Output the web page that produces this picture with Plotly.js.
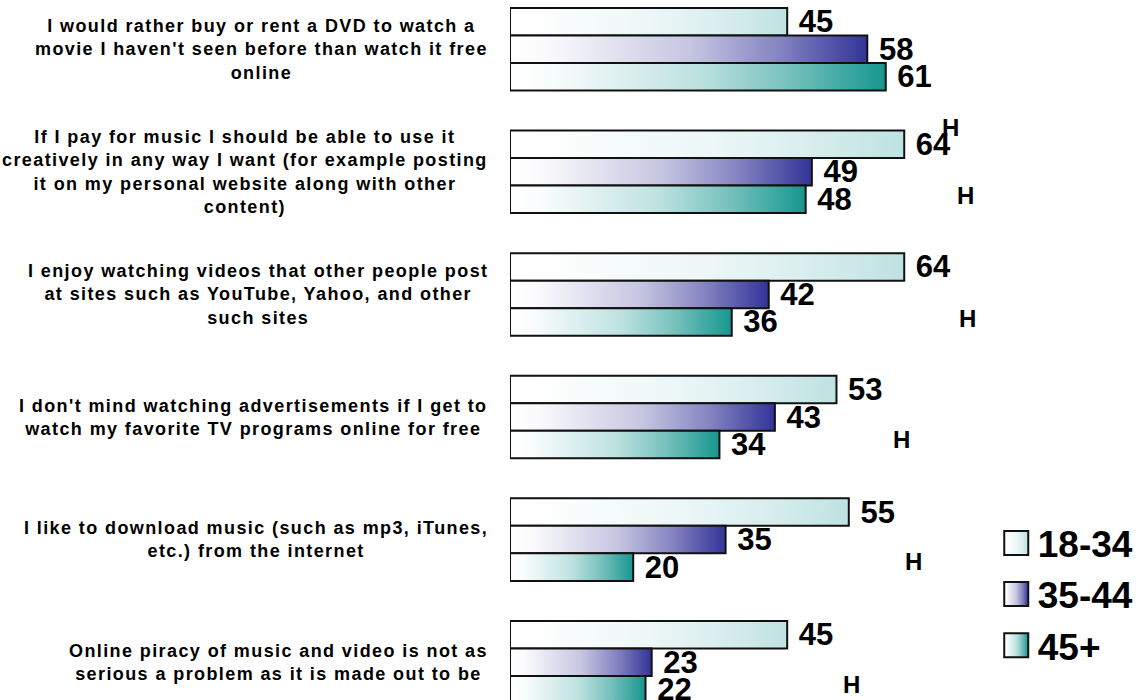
<!DOCTYPE html>
<html>
<head>
<meta charset="utf-8">
<script src="https://cdn.plot.ly/plotly-3.0.1.min.js"></script>
<style>
html, body { margin: 0; padding: 0; background: #ffffff; }
#chart { width: 1142px; height: 700px; }
.annotation-text { letter-spacing: 1.4px; }
</style>
</head>
<body>
<div id="chart"></div>
<script>
// ---- data ----
const categories = [
  "I would rather buy or rent a DVD to watch a<br>movie I haven't seen before than watch it free<br>online",
  "If I pay for music I should be able to use it<br>creatively in any way I want (for example posting<br>it on my personal website along with other<br>content)",
  "I enjoy watching videos that other people post<br>at sites such as YouTube, Yahoo, and other<br>such sites",
  "I don't mind watching advertisements if I get to<br>watch my favorite TV programs online for free",
  "I like to download music (such as mp3, iTunes,<br>etc.) from the internet",
  "Online piracy of music and video is not as<br>serious a problem as it is made out to be"
];
const seriesNames = ["18-34", "35-44", "45+"];
const age18_34 = [45, 64, 64, 53, 55, 45];
const age35_44 = [58, 49, 42, 43, 35, 23];
const age45plus = [61, 48, 36, 34, 20, 22];
const seriesValues = [age18_34, age35_44, age45plus];
// significance markers: category index and value-axis position
const hMarkCategory = [0.635, 1.193, 2.197, 3.186, 4.18, 5.18];
const hMarkValue = [71.6, 74.1, 74.5, 63.7, 65.7, 55.6];
const hMarkText = ["H", "H", "H", "H", "H", "H"];

// ---- style ----
const endColors = ["#bfe2e2", "#333399", "#17968f"];
const FONT = "Liberation Sans, Arial, Helvetica, sans-serif";

const traces = seriesValues.map((vals, i) => ({
  type: "bar",
  orientation: "h",
  name: seriesNames[i],
  y: categories,
  x: vals,
  marker: { color: endColors[i], line: { color: "#111111", width: 2 } },
  text: vals.map(v => String(v)),
  texttemplate: "\u00a0%{x}",
  textposition: "outside",
  constraintext: "none",
  cliponaxis: false,
  textfont: { family: FONT, size: 31, color: "#000000", weight: "bold" },
  hoverinfo: "skip"
}));

const annotations = [];
categories.forEach(c => {
  annotations.push({
    xref: "x", yref: "y", x: 0, y: c,
    xanchor: "right", yanchor: "middle", xshift: -20,
    text: c, showarrow: false, align: "center",
    font: { family: FONT, size: 18, color: "#000000", weight: "bold" }
  });
});
hMarkText.forEach((t, i) => {
  annotations.push({
    xref: "x", yref: "y", x: hMarkValue[i], y: hMarkCategory[i],
    xanchor: "center", yanchor: "middle",
    text: t, showarrow: false,
    font: { family: FONT, size: 24, color: "#000000", weight: "bold" }
  });
});

const layout = {
  width: 1142, height: 700,
  margin: { l: 510, r: 0, t: 0, b: 0, pad: 0 },
  paper_bgcolor: "#ffffff", plot_bgcolor: "rgba(0,0,0,0)",
  barmode: "group", bargap: 0.327, bargroupgap: 0,
  showlegend: true,
  legend: {
    x: 0.767, xanchor: "left", y: 0.268, yanchor: "top",
    bgcolor: "rgba(0,0,0,0)", borderwidth: 0,
    itemwidth: 33,
    font: { family: FONT, size: 37, color: "#000000", weight: "bold" },
    traceorder: "normal"
  },
  xaxis: { range: [0, 102.6], visible: false, showgrid: false, zeroline: false },
  yaxis: {
    type: "category", categoryorder: "array", categoryarray: categories,
    range: [5.308, -0.401], showticklabels: false, showgrid: false,
    zeroline: false, showline: false, ticks: ""
  },
  annotations: annotations,
  font: { family: FONT }
};

function addGradients(gd) {
  const svg = gd.querySelector("svg.main-svg");
  let defs = svg.querySelector("defs");
  if (!defs) { defs = document.createElementNS("http://www.w3.org/2000/svg", "defs"); svg.insertBefore(defs, svg.firstChild); }
  const ns = "http://www.w3.org/2000/svg";
  const stopsFrac = [[0, 0], [0.1, 0.02], [0.5, 0.28], [0.75, 0.6], [1, 1]];
  function mix(hex, f) {
    const r = parseInt(hex.substr(1, 2), 16), g = parseInt(hex.substr(3, 2), 16), b = parseInt(hex.substr(5, 2), 16);
    const m = c => Math.round(255 - f * (255 - c));
    return "rgb(" + m(r) + "," + m(g) + "," + m(b) + ")";
  }
  endColors.forEach((col, i) => {
    const lg = document.createElementNS(ns, "linearGradient");
    lg.setAttribute("id", "barGrad" + i);
    lg.setAttribute("x1", "0"); lg.setAttribute("y1", "0");
    lg.setAttribute("x2", "1"); lg.setAttribute("y2", "0");
    stopsFrac.forEach(([o, f]) => {
      const s = document.createElementNS(ns, "stop");
      s.setAttribute("offset", o);
      s.setAttribute("stop-color", mix(col, f));
      lg.appendChild(s);
    });
    defs.appendChild(lg);
  });
  gd.querySelectorAll(".barlayer .trace").forEach((tr, i) => {
    tr.querySelectorAll(".point path").forEach(p => { p.style.fill = "url(#barGrad" + i + ")"; });
  });
  gd.querySelectorAll(".legend .traces").forEach((tr, i) => {
    tr.querySelectorAll(".legendpoints path").forEach(p => {
      p.setAttribute("d", "M12,12H-12V-12H12Z");
      p.style.fill = "url(#barGrad" + i + ")";
      p.style.stroke = "#111111";
      p.style.strokeWidth = "2px";
    });
  });
}

Plotly.newPlot("chart", traces, layout, { staticPlot: true, displayModeBar: false }).then(addGradients);
</script>
</body>
</html>
